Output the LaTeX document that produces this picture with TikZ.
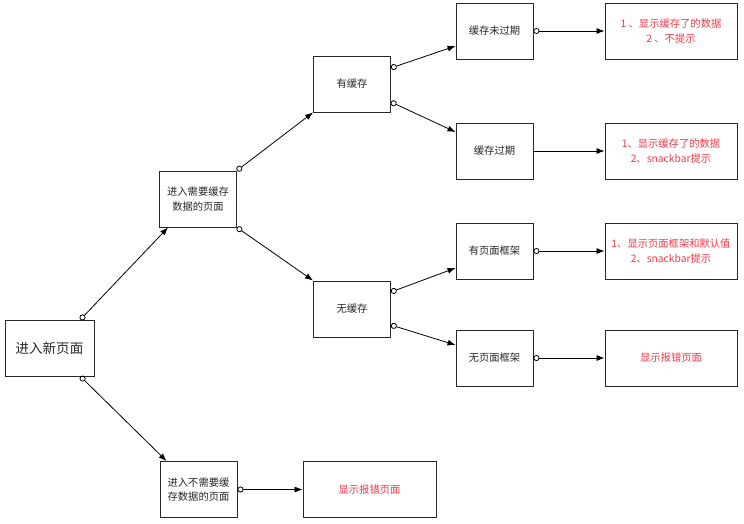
\documentclass[tikz,border=0pt]{standalone}
\usepackage{fontspec}
\newfontfamily\cjk{Noto Sans CJK SC}
\usetikzlibrary{arrows.meta}
\definecolor{redtext}{RGB}{240,56,72}
\definecolor{edge}{RGB}{40,40,40}
\tikzset{
  box/.style={draw=edge, line width=0.9pt, rectangle, inner sep=0pt, align=center,
    minimum width=77pt, minimum height=56pt, font=\cjk\fontsize{10.3}{14.5}\selectfont, text=black!85},
  result/.style={box, minimum width=132pt, text=redtext},
  link/.style={draw=black, line width=0.8pt, -{Latex[length=8pt,width=6pt]}},
  olink/.style={link, {Circle[open,length=6pt,width=6pt,line width=0.8pt]}-{Latex[length=8pt,width=6pt]}}
}
\begin{document}
\begin{tikzpicture}[x=1pt,y=-1pt]
\path[use as bounding box] (0,0) rectangle (744,523);
% nodes
\node[box, minimum width=89pt, font=\cjk\fontsize{13.5}{16}\selectfont] (A) at (49.5,348) {进入新页面};
\node[box] (C) at (198,199) {进入需要缓存\\数据的页面};
\node[box] (B) at (198.5,489.5) {进入不需要缓\\存数据的页面};
\node[result, minimum width=133pt] (Br) at (369.5,489.5) {显示报错页面};
\node[box] (D) at (352,84) {有缓存};
\node[box] (E) at (352,309) {无缓存};
\node[box] (F) at (494.5,31) {缓存未过期};
\node[box] (G) at (494.5,151) {缓存过期};
\node[box] (H) at (494.5,251) {有页面框架};
\node[box] (I) at (494.5,358) {无页面框架};
\node[result] (Fr) at (671,31) {1 、显示缓存了的数据\\2 、不提示};
\node[result] (Gr) at (671,151) {1、显示缓存了的数据\\2、snackbar提示};
\node[result] (Hr) at (671,251) {1、显示页面框架和默认值\\2、snackbar提示};
\node[result] (Ir) at (671,358) {显示报错页面};
% connectors
\draw[olink] ([xshift=-14pt]A.north east) -- ([xshift=9pt]C.south west);
\draw[olink] ([xshift=-14pt]A.south east) -- ([xshift=7pt]B.north west);
\draw[olink] (C.north east) -- (D.south west);
\draw[olink] (C.south east) -- (E.north west);
\draw[olink] ([yshift=16pt]D.east) -- ([yshift=-15pt]F.west);
\draw[olink] ([yshift=-18pt]D.east) -- ([yshift=19pt]G.west);
\draw[olink] ([yshift=17pt]E.east) -- ([yshift=-17pt]H.west);
\draw[olink] ([yshift=-16pt]E.east) -- ([yshift=13pt]I.west);
\draw[olink] (F.east) -- (Fr.west);
\draw[link] (G.east) -- (Gr.west);
\draw[olink] (H.east) -- (Hr.west);
\draw[olink] (I.east) -- (Ir.west);
\draw[olink] (B.east) -- (Br.west);
\end{tikzpicture}
\end{document}
